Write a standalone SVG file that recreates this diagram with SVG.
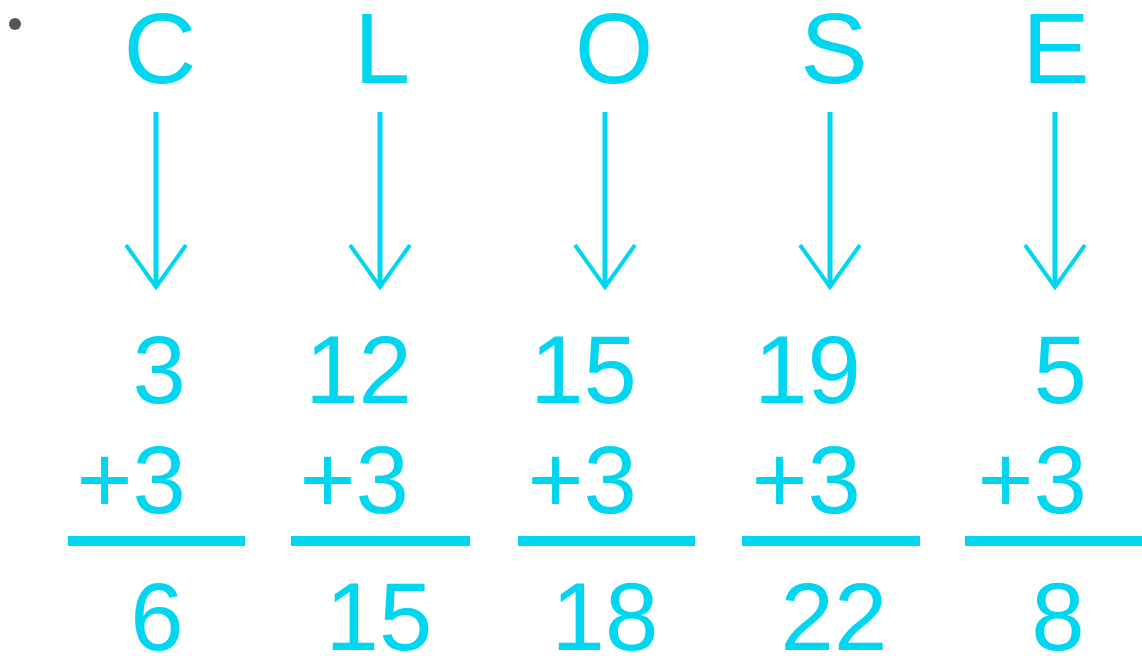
<svg xmlns="http://www.w3.org/2000/svg" width="1142" height="656" viewBox="0 0 1142 656">
<style>
.t{font-family:"Liberation Sans",Arial,sans-serif;fill:#00d6ef}
.L{font-size:101px;text-anchor:middle}
.n{font-size:96px;text-anchor:end}
.r{font-size:96px;text-anchor:middle}
.bar{stroke:#00d6ef;stroke-width:10}
.ar{stroke:#00d6ef;stroke-width:5;fill:none}
</style>
<defs>
<marker id="head" markerUnits="userSpaceOnUse" markerWidth="100" markerHeight="100" refX="0" refY="0" orient="auto" overflow="visible">
<path d="M-42,-30 L0,0 L-42,30" fill="none" stroke="#00d6ef" stroke-width="4"/>
</marker>
</defs>
<rect width="1142" height="656" fill="#ffffff"/>
<circle cx="15" cy="24" r="6" fill="#555555"/>
<g id="connectors">
<line class="ar" x1="156" y1="112" x2="156" y2="287" marker-end="url(#head)"/>
<line class="ar" x1="380" y1="112" x2="380" y2="287" marker-end="url(#head)"/>
<line class="ar" x1="605" y1="112" x2="605" y2="287" marker-end="url(#head)"/>
<line class="ar" x1="830" y1="112" x2="830" y2="287" marker-end="url(#head)"/>
<line class="ar" x1="1055" y1="112" x2="1055" y2="287" marker-end="url(#head)"/>
</g>
<g id="col-C">
<text class="t L" x="160" y="83">C</text>
<text class="t n" x="186" y="403">3</text>
<text class="t n" x="186" y="513">+3</text>
<line class="bar" x1="68" y1="541" x2="245" y2="541"/>
<text class="t r" x="157" y="650">6</text>
</g>
<g id="col-L">
<text class="t L" x="382" y="83">L</text>
<text class="t n" x="412" y="403">12</text>
<text class="t n" x="409" y="513">+3</text>
<line class="bar" x1="291" y1="541" x2="470" y2="541"/>
<text class="t r" x="379" y="650">15</text>
</g>
<g id="col-O">
<text class="t L" x="614" y="83">O</text>
<text class="t n" x="637" y="403">15</text>
<text class="t n" x="637" y="513">+3</text>
<line class="bar" x1="518" y1="541" x2="695" y2="541"/>
<text class="t r" x="605" y="650">18</text>
</g>
<g id="col-S">
<text class="t L" x="834" y="83">S</text>
<text class="t n" x="861" y="403">19</text>
<text class="t n" x="861" y="513">+3</text>
<line class="bar" x1="742" y1="541" x2="920" y2="541"/>
<text class="t r" x="834" y="650">22</text>
</g>
<g id="col-E">
<text class="t L" x="1056" y="83">E</text>
<text class="t n" x="1087" y="403">5</text>
<text class="t n" x="1087" y="513">+3</text>
<line class="bar" x1="965" y1="541" x2="1142" y2="541"/>
<text class="t r" x="1058" y="650">8</text>
</g>
</svg>
